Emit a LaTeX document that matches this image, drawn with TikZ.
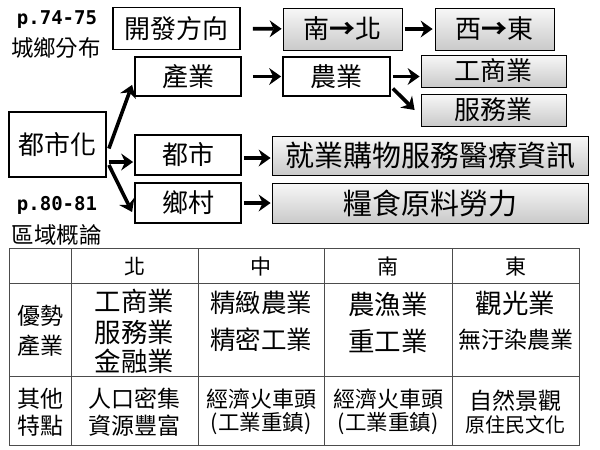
\documentclass[tikz,border=0pt]{standalone}
\usepackage{fontspec}
\setmainfont{Noto Sans CJK TC}
\newfontfamily\pagefont{DejaVu Sans Mono}
\usetikzlibrary{arrows.meta,shadows}
\newcommand{\fs}[1]{\fontsize{#1}{#1}\selectfont}
\newcommand{\barr}{{\bfseries →}}
\tikzset{
  wbox/.style={draw, line width=1.8pt, fill=white, inner sep=0pt, font=\fs{26}},
  gbox/.style={draw, line width=0.8pt, top color=gray!6, bottom color=gray!42, inner sep=0pt,
    drop shadow={shadow xshift=1.2pt, shadow yshift=-1.2pt, opacity=0.35}, font=\fs{26}},
  arr/.style={line width=3.6pt, -{Stealth[length=12pt 0,width=17pt 0,inset=4pt 0,line width=0pt 0]}},
  pg/.style={font=\pagefont\bfseries\fs{19}, inner sep=0pt},
  lab/.style={font=\fs{22.5}, inner sep=0pt},
  grid/.style={draw=black!70, line width=1pt},
  cell/.style={inner sep=0pt},
}
\begin{document}
\begin{tikzpicture}[x=1pt,y=-1pt]
\useasboundingbox[fill=white] (0,0) rectangle (600,450);
% page labels
\node[pg] (p1) at (57,20) {p.74-75};
\node[lab] (l1) at (56,48) {城鄉分布};
\node[pg] (p2) at (57,205) {p.80-81};
\node[lab] (l2) at (57,235) {區域概論};
% boxes
\node[wbox, minimum width=127pt, minimum height=42pt] (kf) at (176.5,28.5) {開發方向};
\node[gbox, minimum width=119pt, minimum height=42pt] (nb) at (342.5,29) {南\barr 北};
\node[gbox, minimum width=119pt, minimum height=42pt] (xd) at (494.5,29) {西\barr 東};
\node[wbox, minimum width=106pt, minimum height=39pt] (cy) at (188,76.5) {產業};
\node[wbox, minimum width=107pt, minimum height=39pt] (ny) at (336.5,76.5) {農業};
\node[gbox, minimum width=145pt, minimum height=32pt] (gs) at (493.5,71) {工商業};
\node[gbox, minimum width=145pt, minimum height=32pt] (fw) at (493.5,110) {服務業};
\node[wbox, minimum width=97pt, minimum height=65pt] (dsh) at (57.5,144.5) {都市化};
\node[wbox, minimum width=106pt, minimum height=40pt] (ds) at (188,155) {都市};
\node[wbox, minimum width=106pt, minimum height=40pt] (xc) at (188,203) {鄉村};
\node[gbox, minimum width=316pt, minimum height=39pt, font=\fs{29}] (jy) at (430,155.5) {就業購物服務醫療資訊};
\node[gbox, minimum width=316pt, minimum height=40pt, font=\fs{29}] (ls) at (430,203) {糧食原料勞力};
% arrows
\draw[arr, shorten <=12pt, shorten >=1pt] (kf) -- (nb);
\draw[arr, shorten <=3pt, shorten >=2pt] (nb) -- (xd);
\draw[arr, shorten <=11pt, shorten >=1pt] (cy) -- (ny);
\draw[arr] ([xshift=2pt]ny.east) -- ([xshift=-1pt]ny.east -| gs.west);
\draw[arr] ([xshift=2pt,yshift=-12pt]ny.east) -- ([xshift=-6pt]fw.west);
\draw[arr] ([xshift=2pt,yshift=-4pt]dsh.east) -- ([xshift=-2pt,yshift=12pt]cy.south west);
\draw[arr] ([xshift=2pt,yshift=-17.5pt]dsh.east) -- ([xshift=-1pt,yshift=-7pt]ds.west);
\draw[arr] ([xshift=2pt,yshift=-20.5pt]dsh.east) -- ([xshift=-2pt,yshift=-9pt]xc.west);
\draw[arr] ([xshift=2pt,yshift=-3pt]ds.east) -- ([xshift=-1pt,yshift=-2.5pt]jy.west);
\draw[arr, shorten <=2pt, shorten >=1pt] (xc) -- (ls);
% table grid
\draw[grid] (9,248) rectangle (579,445);
\foreach \x in {71,198,324,452} \draw[grid] (\x,248) -- (\x,445);
\foreach \y in {283,376} \draw[grid] (9,\y) -- (579,\y);
% header
\node[cell, font=\fs{21}] (hn) at (134.5,267) {北};
\node[cell, font=\fs{21}] (hz) at (261,267) {中};
\node[cell, font=\fs{21}] (hs) at (388,267) {南};
\node[cell, font=\fs{21}] (he) at (515.5,267) {東};
% row 2
\node[cell, font=\fs{23}] (r2a) at (40,316) {優勢};
\node[cell, font=\fs{23}] (r2b) at (40,346) {產業};
\node[cell, font=\fs{26.5}] (n1) at (134.5,301) {工商業};
\node[cell, font=\fs{26.5}] (n2) at (134.5,332) {服務業};
\node[cell, font=\fs{26.5}] (n3) at (134.5,361) {金融業};
\node[cell, font=\fs{25.5}] (z1) at (261,303) {精緻農業};
\node[cell, font=\fs{25.5}] (z2) at (261,340) {精密工業};
\node[cell, font=\fs{26.5}] (s1) at (388,304) {農漁業};
\node[cell, font=\fs{26.5}] (s2) at (388,341) {重工業};
\node[cell, font=\fs{26.5}] (e1) at (515.5,303) {觀光業};
\node[cell, font=\fs{23}] (e2) at (515.5,340) {無汙染農業};
% row 3
\node[cell, font=\fs{23}] (r3a) at (40,399) {其他};
\node[cell, font=\fs{23}] (r3b) at (40,426) {特點};
\node[cell, font=\fs{23}] (t1) at (134.5,399) {人口密集};
\node[cell, font=\fs{23}] (t2) at (134.5,426) {資源豐富};
\node[cell, font=\fs{22}] (u1) at (261,399) {經濟火車頭};
\node[cell, font=\fs{21.5}] (u2) at (261,424) {(工業重鎮)};
\node[cell, font=\fs{22}] (v1) at (388,399) {經濟火車頭};
\node[cell, font=\fs{21.5}] (v2) at (388,424) {(工業重鎮)};
\node[cell, font=\fs{23}] (w1) at (515.5,401) {自然景觀};
\node[cell, font=\fs{20}] (w2) at (515.5,425) {原住民文化};
\end{tikzpicture}
\end{document}
